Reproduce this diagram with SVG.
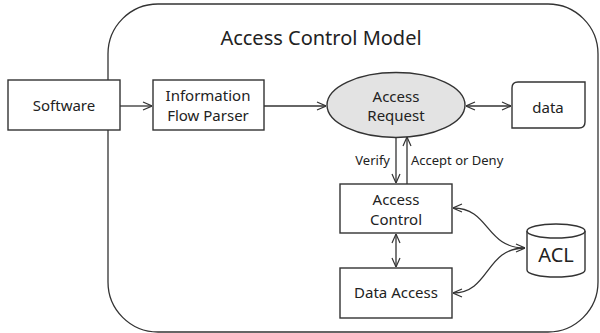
<svg xmlns="http://www.w3.org/2000/svg" width="600" height="333" viewBox="0 0 600 333">
  <defs>
    <marker id="arr" viewBox="0 0 10 10" refX="10" refY="5" markerWidth="10" markerHeight="10" markerUnits="userSpaceOnUse" orient="auto-start-reverse">
      <path d="M1,1 L10,5 L1,9" fill="none" stroke="#333" stroke-width="1.2"/>
    </marker>
    <style>
      .box { fill: #fff; stroke: #333; stroke-width: 1.4; }
      .frame { fill: #fff; stroke: #333; stroke-width: 1.3; }
      .line { fill: none; stroke: #333; stroke-width: 1.3; }
      text { font-family: "Noto Sans", "Open Sans", sans-serif; fill: #222; text-anchor: middle; }
      .lbl { font-size: 15px; }
      .small { font-size: 13px; }
      .title { font-size: 20px; }
      .big { font-size: 20px; }
    </style>
  </defs>

  <!-- system boundary -->
  <g id="model-frame">
    <rect class="frame" x="108" y="4" width="490" height="328" rx="50" ry="50"/>
    <text class="title" x="321" y="45">Access Control Model</text>
  </g>

  <g id="software">
    <rect class="box" x="8" y="80" width="112" height="50"/>
    <text class="lbl" x="64" y="111">Software</text>
  </g>

  <g id="parser">
    <rect class="box" x="153" y="80" width="111" height="50"/>
    <text class="lbl" x="208" y="101">Information</text>
    <text class="lbl" x="208" y="121">Flow Parser</text>
  </g>

  <g id="access-request">
    <ellipse cx="396" cy="105" rx="69" ry="32.5" fill="#e3e3e3" stroke="#333" stroke-width="1.4"/>
    <text class="lbl" x="396" y="102">Access</text>
    <text class="lbl" x="396" y="121">Request</text>
  </g>

  <g id="data">
    <path class="box" d="M518,82 H585 V122 Q585,128 579,128 H512 V88 Q512,82 518,82 Z"/>
    <text class="lbl" x="548" y="113">data</text>
  </g>

  <g id="access-control">
    <rect class="box" x="340" y="184" width="112" height="49"/>
    <text class="lbl" x="396" y="205">Access</text>
    <text class="lbl" x="396" y="225">Control</text>
  </g>

  <g id="data-access">
    <rect class="box" x="340" y="268" width="112" height="50"/>
    <text class="lbl" x="396" y="298">Data Access</text>
  </g>

  <g id="acl">
    <path class="box" d="M527,231 V270 A29,7 0 0 0 585,270 V231"/>
    <ellipse class="box" cx="556" cy="231" rx="29" ry="7"/>
    <text class="big" x="556" y="262">ACL</text>
  </g>

  <g id="connectors">
    <line class="line" x1="120" y1="106" x2="152" y2="106" marker-end="url(#arr)"/>
    <line class="line" x1="264" y1="106" x2="326" y2="106" marker-end="url(#arr)"/>
    <line class="line" x1="466" y1="106" x2="511" y2="106" marker-start="url(#arr)" marker-end="url(#arr)"/>
    <line class="line" x1="396" y1="137.5" x2="396" y2="183" marker-end="url(#arr)"/>
    <line class="line" x1="407" y1="184" x2="407" y2="137" marker-end="url(#arr)"/>
    <line class="line" x1="396" y1="234" x2="396" y2="267" marker-start="url(#arr)" marker-end="url(#arr)"/>
    <path class="line" d="M453,208 C490,208 485,248 525,248" marker-start="url(#arr)" marker-end="url(#arr)"/>
    <path class="line" d="M453,293 C490,293 485,248 525,248" marker-start="url(#arr)"/>
    <text class="small" x="390" y="165" style="text-anchor:end">Verify</text>
    <text class="small" x="411" y="165" style="text-anchor:start">Accept or Deny</text>
  </g>
</svg>
